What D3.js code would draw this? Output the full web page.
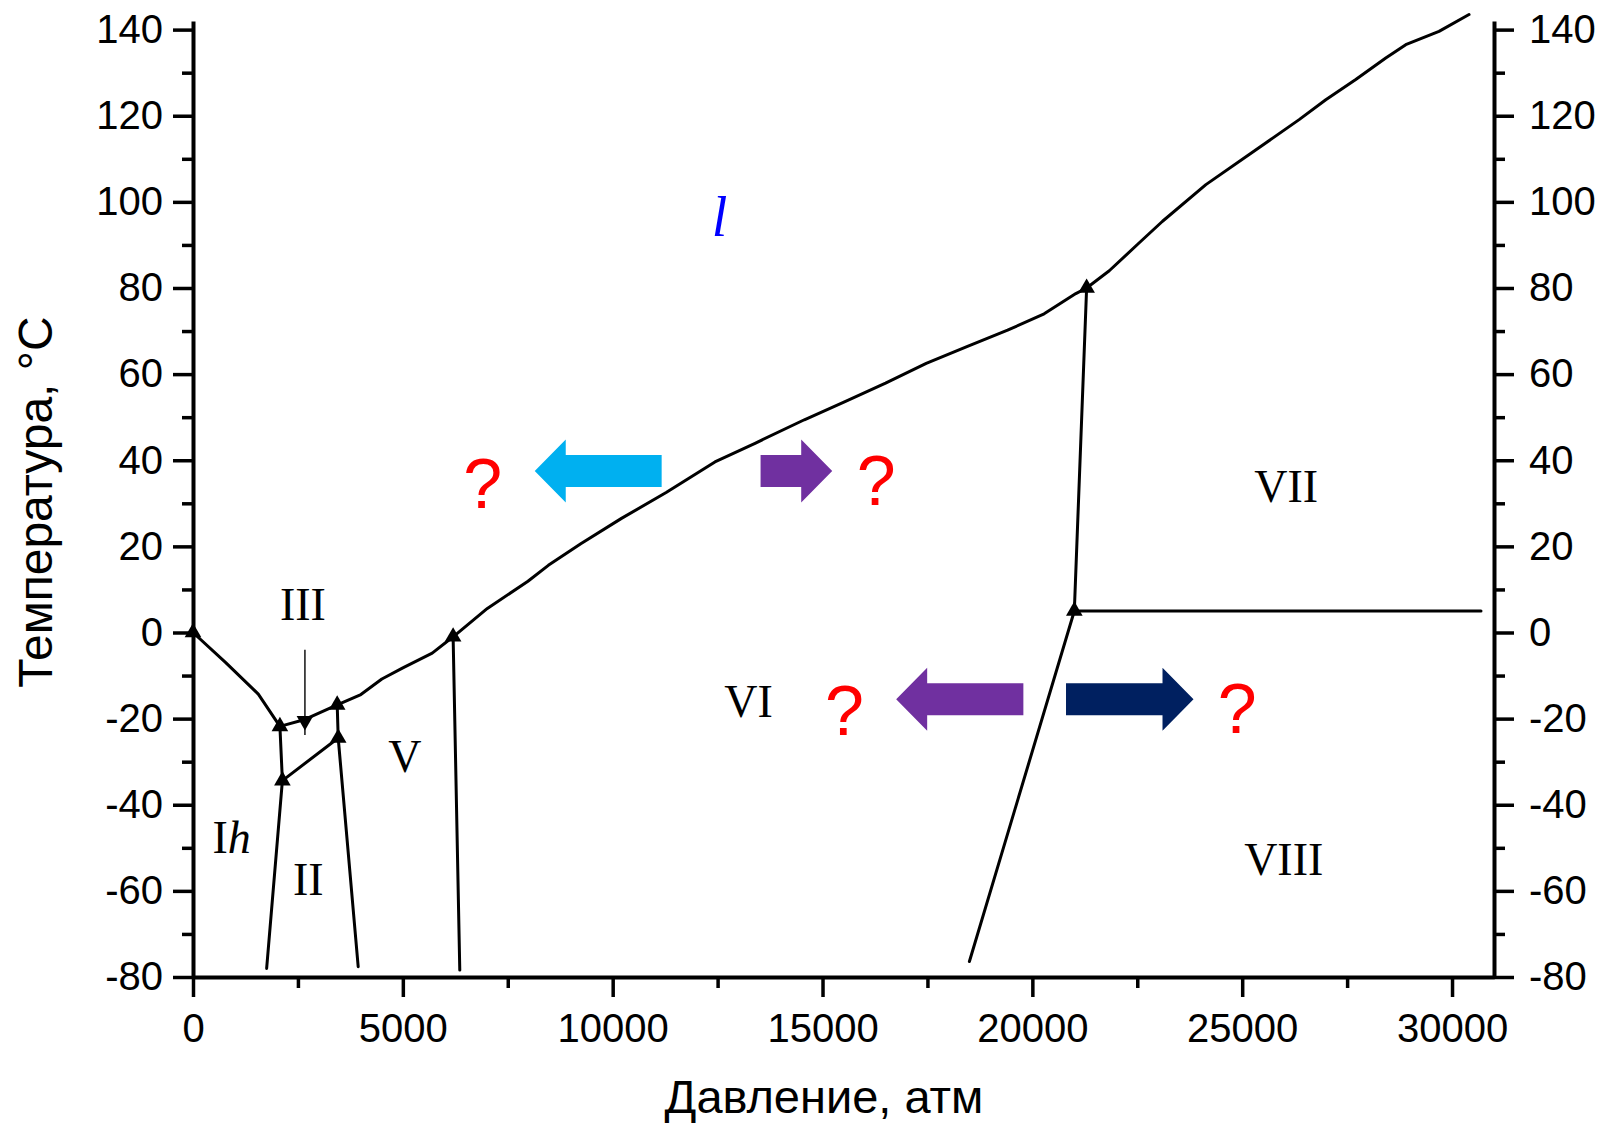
<!DOCTYPE html>
<html>
<head>
<meta charset="utf-8">
<script src="https://cdn.jsdelivr.net/npm/d3@7"></script>
<style>
  html, body { margin: 0; padding: 0; background: #ffffff; }
  svg { display: block; }
</style>
</head>
<body>
<script>
// ---------- data ----------
const xMajorTicks = [0, 5000, 10000, 15000, 20000, 25000, 30000];
const xMinorTicks = [2500, 7500, 12500, 17500, 22500, 27500];
const yMajorTicks = [-80, -60, -40, -20, 0, 20, 40, 60, 80, 100, 120, 140];
const yMinorTicks = [-70, -50, -30, -10, 10, 30, 50, 70, 90, 110, 130];

// phase boundaries: [pressure (atm), temperature (°C)]
const ihLiquid   = [[0, 0], [780, -7.0], [1556, -14.3], [2071, -21.8]];
const iiiLiquid  = [[2071, -21.8], [2667, -20.2], [3436, -16.8]];
const vLiquid    = [[3436, -16.8], [4000, -14.4], [4500, -10.8], [5000, -8.2], [5700, -4.8], [6198, -1.0]];
const viLiquid   = [[6198, -1.0], [7014, 5.6], [7981, 11.9], [8467, 15.6], [9240, 20.6], [10210, 26.5],
                    [11274, 32.5], [12436, 39.6], [13405, 44.0], [14567, 49.4], [15536, 53.6], [16502, 57.9],
                    [17471, 62.5], [18440, 66.4], [19410, 70.2], [20281, 74.0], [21036, 78.7], [21293, 80.0]];
const viiLiquid  = [[21293, 80.0], [21833, 84.0], [22548, 90.5], [23102, 95.5], [24135, 104.0], [25167, 111.0],
                    [26357, 119.1], [26992, 123.7], [27706, 128.4], [28421, 133.4], [28897, 136.5],
                    [29690, 139.6], [30405, 143.5]];
const ihIII      = [[2071, -21.8], [2130, -34.4]];
const ihII       = [[2130, -34.4], [1755, -78.0]];
const iiIII      = [[2130, -34.4], [3460, -24.5]];
const iiiV       = [[3460, -24.5], [3436, -16.8]];
const iiV        = [[3460, -24.5], [3936, -77.6]];
const vVI        = [[6198, -1.0], [6357, -78.4]];
const viVII      = [[21293, 80.0], [21000, 5.0]];
const viiVIII    = [[21000, 5.0], [30690, 5.0]];
const viVIII     = [[21000, 5.0], [18500, -76.4]];

const triplePoints = [[0, 0], [2071, -21.8], [3436, -16.8], [2130, -34.4], [3460, -24.5],
                      [6198, -1.0], [21293, 80.0], [21000, 5.0]];
const iiiPointer = [[2667, -4.0], [2667, -23.8]];
const iiiPointerHead = [2667, -20.5];

const regionNames = ["III", "II", "V", "VI", "VII", "VIII"];
const regionP     = [2619, 2745, 5048, 13238, 26048, 25990];
const regionT     = [2.9, -61.0, -32.4, -19.6, 30.4, -56.3];

const arrowFrom  = [11167, 13524, 19786, 20802];
const arrowTo    = [8143, 15231, 16755, 23840];
const arrowT     = [37.5, 37.5, -15.5, -15.5];
const arrowColor = ["#00B0F0", "#7030A0", "#7030A0", "#002060"];

const questionP = [6905, 16279, 15524, 24881];
const questionT = [29.0, 29.5, -23.8, -23.3];

// ---------- layout ----------
const W = 1614, H = 1126;
const X0 = 193, X1 = 1494, Y0 = 977, Y1 = 21;

const svg = d3.select("body").append("svg").attr("width", W).attr("height", H);
svg.append("rect").attr("width", W).attr("height", H).attr("fill", "#fff");

const x = d3.scaleLinear().domain([0, 31000]).range([X0, X1]);
const y = d3.scaleLinear().domain([-80, 142]).range([Y0, Y1]);

const tickFont = "'Liberation Sans', Arial, sans-serif";
const serif = "'Liberation Serif', 'Times New Roman', serif";
const fmt = d => String(d);

function styleAxis(g, fontSize) {
  g.select(".domain").attr("stroke", "#000").attr("stroke-width", 4);
  g.selectAll(".tick line").attr("stroke", "#000").attr("stroke-width", 3.5);
  g.selectAll(".tick text").attr("fill", "#000").attr("font-family", tickFont).attr("font-size", fontSize);
}

// minor ticks
svg.append("g").attr("transform", `translate(0,${Y0})`)
  .call(d3.axisBottom(x).tickValues(xMinorTicks).tickSize(11).tickSizeOuter(0).tickFormat(""))
  .call(g => { styleAxis(g, 40); g.select(".domain").remove(); });
svg.append("g").attr("transform", `translate(${X0},0)`)
  .call(d3.axisLeft(y).tickValues(yMinorTicks).tickSize(11).tickSizeOuter(0).tickFormat(""))
  .call(g => { styleAxis(g, 40); g.select(".domain").remove(); });
svg.append("g").attr("transform", `translate(${X1},0)`)
  .call(d3.axisRight(y).tickValues(yMinorTicks).tickSize(11).tickSizeOuter(0).tickFormat(""))
  .call(g => { styleAxis(g, 40); g.select(".domain").remove(); });

// major axes
svg.append("g").attr("transform", `translate(0,${Y0})`)
  .call(d3.axisBottom(x).tickValues(xMajorTicks).tickSize(20).tickSizeOuter(0).tickPadding(17).tickFormat(fmt))
  .call(g => styleAxis(g, 40));
svg.append("g").attr("transform", `translate(${X0},0)`)
  .call(d3.axisLeft(y).tickValues(yMajorTicks).tickSize(20).tickSizeOuter(0).tickPadding(10).tickFormat(fmt))
  .call(g => styleAxis(g, 40));
svg.append("g").attr("transform", `translate(${X1},0)`)
  .call(d3.axisRight(y).tickValues(yMajorTicks).tickSize(20).tickSizeOuter(0).tickPadding(15).tickFormat(fmt))
  .call(g => styleAxis(g, 40));

// axis titles
svg.append("text").attr("x", 824).attr("y", 1113).attr("text-anchor", "middle")
  .attr("font-family", tickFont).attr("font-size", 47).attr("fill", "#000").text("Давление, атм");
svg.append("text").attr("transform", "translate(52,502) rotate(-90)").attr("text-anchor", "middle")
  .attr("font-family", tickFont).attr("font-size", 48).attr("fill", "#000").text("Температура, °C");

// boundaries
const line = d3.line().x(d => x(d[0])).y(d => y(d[1]));
const boundaries = [ihLiquid, iiiLiquid, vLiquid, viLiquid, viiLiquid, ihIII, ihII, iiIII, iiiV, iiV, vVI, viVII, viiVIII, viVIII];
svg.append("g").selectAll("path").data(boundaries).join("path")
  .attr("d", line).attr("fill", "none").attr("stroke", "#000")
  .attr("stroke-width", 3).attr("stroke-linejoin", "round").attr("stroke-linecap", "round");

// triple point markers
const tri = d3.symbol().type(d3.symbolTriangle).size(120);
svg.append("g").selectAll("path").data(triplePoints).join("path")
  .attr("d", tri).attr("transform", d => `translate(${x(d[0])},${y(d[1])})`).attr("fill", "#000");

// pointer to phase III boundary
svg.append("path").attr("d", line(iiiPointer)).attr("stroke", "#000").attr("stroke-width", 1.4).attr("fill", "none");
svg.append("path").attr("d", tri).attr("fill", "#000")
  .attr("transform", `translate(${x(iiiPointerHead[0])},${y(iiiPointerHead[1])}) rotate(180)`);

// region labels
svg.append("g").selectAll("text").data(regionNames).join("text")
  .attr("x", (d, i) => x(regionP[i])).attr("y", (d, i) => y(regionT[i]))
  .attr("text-anchor", "middle").attr("font-family", serif).attr("font-size", 46).attr("fill", "#000")
  .text(d => d);
const ih = svg.append("text").attr("x", x(921)).attr("y", y(-51.2)).attr("text-anchor", "middle")
  .attr("font-family", serif).attr("font-size", 46).attr("fill", "#000");
ih.append("tspan").text("I");
ih.append("tspan").attr("font-style", "italic").text("h");
svg.append("text").attr("x", x(12548)).attr("y", y(92.1)).attr("text-anchor", "middle")
  .attr("font-family", serif).attr("font-style", "italic").attr("font-size", 56).attr("fill", "#0000FF").text("l");

// block arrows
const headLen = 31, headHalf = 31.5, shaftHalf = 16;
svg.append("g").selectAll("path").data(arrowFrom).join("path")
  .attr("fill", (d, i) => arrowColor[i])
  .attr("d", (d, i) => {
    const a = x(arrowFrom[i]), b = x(arrowTo[i]), c = y(arrowT[i]);
    const dir = Math.sign(b - a);
    const hb = b - dir * headLen;
    return `M${a},${c - shaftHalf}L${hb},${c - shaftHalf}L${hb},${c - headHalf}L${b},${c}` +
           `L${hb},${c + headHalf}L${hb},${c + shaftHalf}L${a},${c + shaftHalf}Z`;
  });

// question marks
svg.append("g").selectAll("text").data(questionP).join("text")
  .attr("x", d => x(d)).attr("y", (d, i) => y(questionT[i]))
  .attr("text-anchor", "middle").attr("font-family", tickFont)
  .attr("font-size", 70).attr("fill", "#FF0000")
  .text("?");
</script>
</body>
</html>
